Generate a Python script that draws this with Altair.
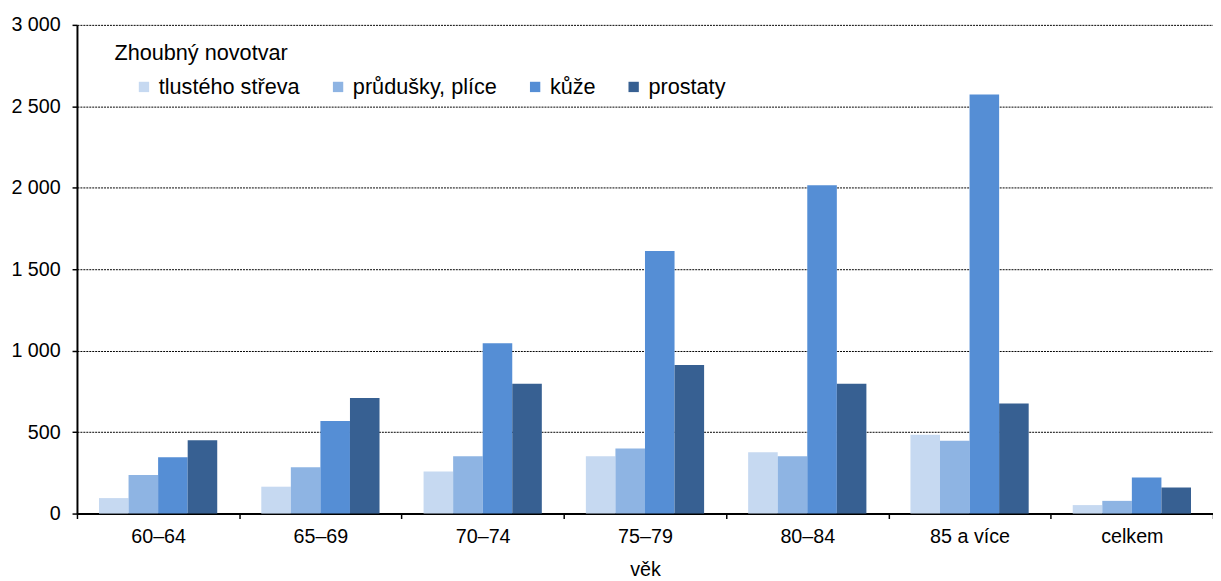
import altair as alt
import pandas as pd

# ---- data ----
vek = ["60–64", "65–69", "70–74", "75–79", "80–84", "85 a více", "celkem"]
serie = ["tlustého střeva", "průdušky, plíce", "kůže", "prostaty"]
tlusteho_streva = [95, 165, 258, 352, 376, 484, 52]
prudusky_plice = [237, 285, 352, 399, 352, 447, 78]
kuze = [345, 568, 1045, 1612, 2015, 2572, 222]
prostaty = [450, 710, 797, 912, 797, 675, 160]
barvy = ["#C6D9F1", "#8EB4E3", "#558ED5", "#376092"]
y_ticks = [0, 500, 1000, 1500, 2000, 2500, 3000]
legend_title = "Zhoubný novotvar"

rows = []
for s, vals in zip(serie, [tlusteho_streva, prudusky_plice, kuze, prostaty]):
    for v, val in zip(vek, vals):
        rows.append({"vek": v, "serie": s, "hodnota": val})
df = pd.DataFrame(rows)

FONT = "Liberation Sans"

bars = alt.Chart(df).mark_bar().encode(
    x=alt.X(
        "vek:N",
        sort=vek,
        title="věk",
        scale=alt.Scale(paddingInner=0, paddingOuter=0),
        axis=alt.Axis(
            labelAngle=0,
            tickBand="extent",
            tickSize=5,
            tickColor="black",
            tickWidth=1.5,
            domainColor="black",
            domainWidth=2,
            labelFontSize=20,
            labelPadding=8,
            titleFontSize=20,
            titleFontWeight="normal",
            titlePadding=14,
            grid=False,
        ),
    ),
    xOffset=alt.XOffset(
        "serie:N",
        sort=serie,
        scale=alt.Scale(paddingInner=0, paddingOuter=0.745),
    ),
    y=alt.Y(
        "hodnota:Q",
        title=None,
        scale=alt.Scale(domain=[0, 3000], nice=False),
        axis=alt.Axis(
            values=y_ticks,
            labelExpr="replace(format(datum.value, ','), ',', ' ')",
            tickSize=5,
            tickColor="black",
            tickWidth=1.5,
            domainColor="black",
            domainWidth=2,
            labelFontSize=20,
            labelPadding=12,
            grid=True,
            gridColor="black",
            gridDash=[2, 1],
            gridWidth=1,
        ),
    ),
    color=alt.Color(
        "serie:N",
        sort=serie,
        scale=alt.Scale(domain=serie, range=barvy),
        legend=alt.Legend(
            title=None,
            orient="none",
            legendX=57,
            legendY=52,
            direction="horizontal",
            symbolType="square",
            symbolSize=110,
            symbolStrokeWidth=0,
            labelFontSize=22,
            labelOffset=4,
            columnPadding=27,
            padding=0,
        ),
    ),
)

title_text = alt.Chart(pd.DataFrame({"t": [legend_title]})).mark_text(
    align="left", baseline="alphabetic", fontSize=22, font=FONT, color="black"
).encode(x=alt.value(38), y=alt.value(36), text="t:N")

chart = (
    alt.layer(bars, title_text)
    .properties(
        width=1153,
        height=496,
        padding={"left": 70, "top": 12.8, "right": 0, "bottom": 70},
        autosize=alt.AutoSizeParams(type="none"),
    )
    .configure_view(stroke=None)
    .configure_axis(labelFont=FONT, titleFont=FONT, labelColor="black", titleColor="black")
    .configure_legend(labelFont=FONT, labelColor="black")
    .configure_text(font=FONT)
)

chart.save("out.html", embed_options={"renderer": "svg", "actions": False})
